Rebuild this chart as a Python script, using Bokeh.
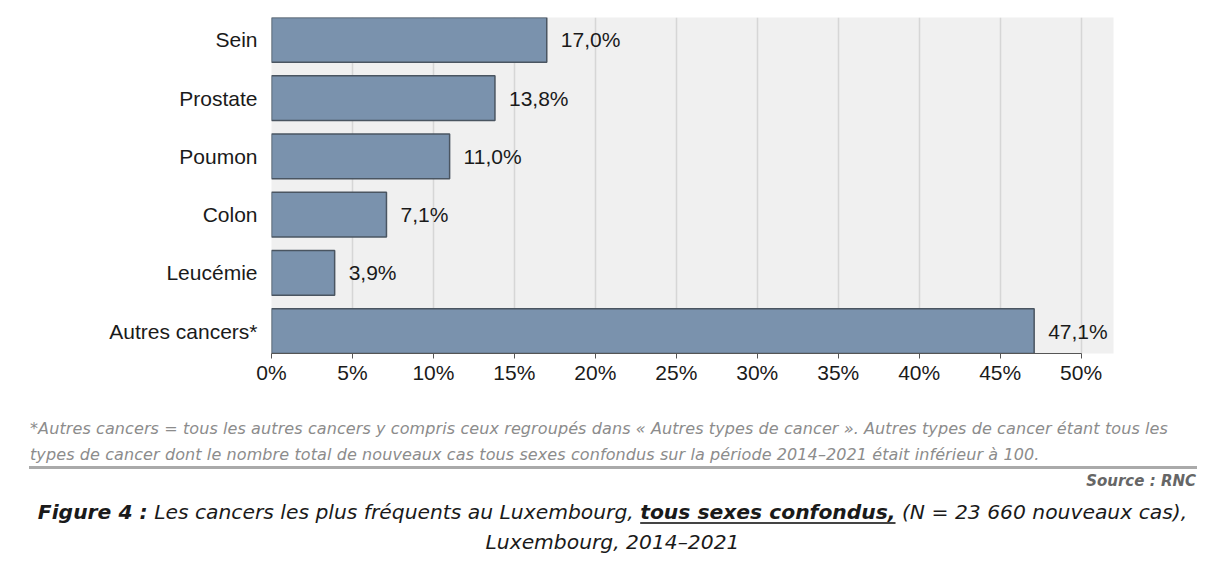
from bokeh.plotting import figure
from bokeh.layouts import column
from bokeh.models import Range1d, FixedTicker, ColumnDataSource, Div
from bokeh.core.properties import value
from bokeh.embed import file_html
from bokeh.resources import INLINE

categories = ["Sein", "Prostate", "Poumon", "Colon", "Leucémie", "Autres cancers*"]
values = [17.0, 13.8, 11.0, 7.1, 3.9, 47.1]
value_labels = ["17,0%", "13,8%", "11,0%", "7,1%", "3,9%", "47,1%"]
x_ticks = [0, 5, 10, 15, 20, 25, 30, 35, 40, 45, 50]
x_tick_labels = ["0%", "5%", "10%", "15%", "20%", "25%", "30%", "35%", "40%", "45%", "50%"]

footnote_1 = ("*Autres cancers = tous les autres cancers y compris ceux regroupés dans « Autres types "
              "de cancer ». Autres types de cancer étant tous les")
footnote_2 = ("types de cancer dont le nombre total de nouveaux cas tous sexes confondus sur la "
              "période 2014–2021 était inférieur à 100.")
source_text = "Source : RNC"
caption_parts = ["Figure 4 :", "Les cancers les plus fréquents au Luxembourg,",
                 "tous sexes confondus,", "(N = 23 660 nouveaux cas),"]
caption_line_2 = "Luxembourg, 2014–2021"

W = 1200
CHART_H = 395
CAP_H = 159

ypos = list(range(len(categories)))
bar_h = 0.77

src = ColumnDataSource(dict(y=ypos, v=values, lab=value_labels, cat=categories))

p = figure(width=W, height=CHART_H, output_backend="svg", toolbar_location=None,
           x_range=Range1d(0, 52), y_range=Range1d(len(categories) - 1 + bar_h / 2, -bar_h / 2),
           min_border_left=271, min_border_right=W - 1113, min_border_top=17,
           min_border_bottom=CHART_H - 353)
p.outline_line_color = None
p.background_fill_color = "#f0f0f0"
p.border_fill_color = "white"

p.hbar(y="y", right="v", left=0, height=bar_h, source=src,
       fill_color="#7a92ad", line_color="#4a5561", line_width=1.5)
p.text(x="v", y="y", text="lab", source=src, x_offset=14, text_baseline="middle",
       text_align="left", text_font=value("Liberation Sans"), text_font_size="21px",
       text_color="#1a1a1a")

p.xaxis.ticker = FixedTicker(ticks=x_ticks)
p.xaxis.major_label_overrides = {t: l for t, l in zip(x_ticks, x_tick_labels)}
p.xaxis.bounds = (x_ticks[0], x_ticks[-1])
p.xaxis.axis_line_color = "#555555"
p.xaxis.major_tick_line_color = "#555555"
p.xaxis.major_tick_out = 5
p.xaxis.major_tick_in = 0
p.xaxis.minor_tick_line_color = None
p.xaxis.major_label_text_font = "Liberation Sans"
p.xaxis.major_label_text_font_size = "21px"
p.xaxis.major_label_text_color = "#1a1a1a"
p.xaxis.major_label_standoff = 2

p.yaxis.ticker = FixedTicker(ticks=ypos)
p.yaxis.major_label_overrides = {i: c for i, c in zip(ypos, categories)}
p.yaxis.axis_line_color = None
p.yaxis.major_tick_line_color = None
p.yaxis.minor_tick_line_color = None
p.yaxis.major_tick_out = 0
p.yaxis.major_tick_in = 0
p.yaxis.major_label_standoff = 14
p.yaxis.major_label_text_font = "Liberation Sans"
p.yaxis.major_label_text_font_size = "21px"
p.yaxis.major_label_text_color = "#1a1a1a"

p.xgrid.ticker = FixedTicker(ticks=x_ticks)
p.xgrid.grid_line_color = "#d6d6d6"
p.xgrid.grid_line_width = 1.5
p.ygrid.grid_line_color = None

# caption block (HTML, absolutely positioned lines)
def line(html, top, lh, size, extra=""):
    return (f'<div style="position:absolute;top:{top}px;line-height:{lh}px;font-size:{size}px;'
            f'white-space:nowrap;{extra}">{html}</div>')

foot_style = "left:30px;font-style:italic;color:#8c8c8c;letter-spacing:0.1px;"
cap_style = "left:25px;width:1175px;text-align:center;font-style:italic;color:#1a1a1a;"

cap_html = (
    f'<div style="position:relative;width:{W}px;height:{CAP_H}px;font-family:\'DejaVu Sans\';">'
    + line(footnote_1, 429 - 11 - CHART_H, 22, 16, foot_style)
    + line(footnote_2, 455 - 11 - CHART_H, 22, 16, foot_style)
    + f'<div style="position:absolute;left:29px;width:1168px;top:{466 - CHART_H}px;height:3px;'
      f'background:#aaaaaa;"></div>'
    + line(source_text, 481 - 10 - CHART_H, 20, 15,
           "right:4px;font-style:italic;font-weight:bold;color:#666666;")
    + line(f'<b>{caption_parts[0]}</b> {caption_parts[1]} '
           f'<b style="text-decoration:underline;text-decoration-thickness:2px;'
           f'text-underline-offset:3px;text-decoration-color:#444;">{caption_parts[2]}</b> '
           f'{caption_parts[3]}',
           512 - 14 - CHART_H, 28, 20.3, cap_style)
    + line(caption_line_2, 542 - 14 - CHART_H, 28, 20.3, cap_style)
    + '</div>'
)
cap = Div(text=cap_html, width=W, height=CAP_H, margin=(0, 0, 0, 0))

layout = column(p, cap, spacing=0)
open("out.html", "w").write(file_html(layout, INLINE))
